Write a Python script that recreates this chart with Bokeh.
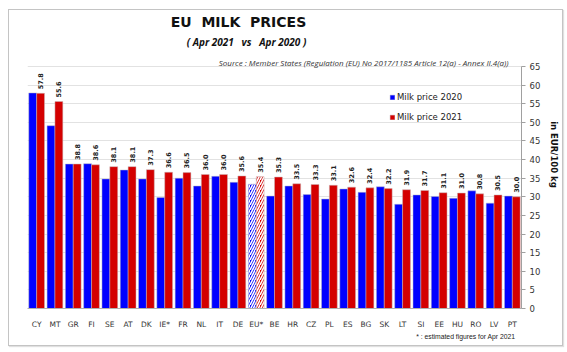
from math import pi
from bokeh.plotting import figure
from bokeh.models import (ColumnDataSource, Range1d, FixedTicker, Label, Title,
                          LabelSet, Legend, LegendItem, InlineStyleSheet)
from bokeh.core.properties import value
from bokeh.transform import dodge
from bokeh.embed import file_html
from bokeh.resources import INLINE

countries = ["CY", "MT", "GR", "FI", "SE", "AT", "DK", "IE*", "FR", "NL", "IT", "DE", "EU*",
             "BE", "HR", "CZ", "PL", "ES", "BG", "SK", "LT", "SI", "EE", "HU", "RO", "LV", "PT"]
price_2020 = [57.9, 49.1, 38.8, 38.9, 34.8, 37.2, 34.8, 29.8, 35.0, 32.9, 35.5, 33.9, 33.4,
              30.2, 32.9, 30.6, 29.4, 32.1, 31.2, 32.7, 28.0, 30.5, 30.1, 29.6, 31.6, 28.3, 30.2]
price_2021 = [57.8, 55.6, 38.8, 38.6, 38.1, 38.1, 37.3, 36.6, 36.5, 36.0, 36.0, 35.6, 35.4,
              35.3, 33.5, 33.3, 33.1, 32.6, 32.4, 32.2, 31.9, 31.7, 31.1, 31.0, 30.8, 30.5, 30.0]
estimated = ["EU*"]
y_ticks = list(range(0, 66, 5))

src = ColumnDataSource(dict(
    country=countries,
    p2020=price_2020,
    p2021=price_2021,
    lbl=["%.1f" % v for v in price_2021],
    hatch=["/" if c in estimated else " " for c in countries],
))

W, H = 567, 352
FL, FR, FB = 27, 521, 308          # frame left / right / bottom (canvas px)
DATA_TOP = 66                       # canvas y of the value 65
ppu = (FB - DATA_TOP) / y_ticks[-1]
y_end = y_ticks[-1] + DATA_TOP / ppu   # frame reaches canvas top, titles live inside it

p = figure(width=W, height=H, x_range=countries, y_range=Range1d(0, y_end),
           output_backend="svg", toolbar_location=None, y_axis_location="right",
           min_border_left=FL, min_border_right=W - FR, min_border_top=0,
           min_border_bottom=H - FB)
p.background_fill_color = "white"
p.border_fill_color = "white"
p.outline_line_color = None
p.stylesheets = [InlineStyleSheet(css="""
:host { position: relative; }
:host::after {
  content: ""; position: absolute; left: 8px; top: 9px; width: 553px; height: 335px;
  border: 1px solid #c4c4c4; box-shadow: 1px 1px 1px #e0e0e0;
  pointer-events: none; z-index: 100;
}
""")]

BLUE = "#0000ff"
RED = "#d40000"
bw = 0.43
r20 = p.vbar(x=dodge("country", -0.215, range=p.x_range), top="p2020", width=bw, source=src,
             fill_color=BLUE, line_color="#b8b8c8", line_width=0.5,
             hatch_pattern="hatch", hatch_color="white", hatch_scale=5, hatch_weight=1.6)
r21 = p.vbar(x=dodge("country", 0.215, range=p.x_range), top="p2021", width=bw, source=src,
             fill_color=RED, line_color="#c8b8b8", line_width=0.5,
             hatch_pattern="hatch", hatch_color="white", hatch_scale=5, hatch_weight=1.6)

labels = LabelSet(x=dodge("country", 0.215, range=p.x_range), y="p2021", text="lbl",
                  source=src, angle=pi / 2, text_align="left", text_baseline="middle",
                  y_offset=4, text_font=value("DejaVu Sans"), text_font_style="bold",
                  text_font_size="6.5px", text_color="#222222")
p.add_layout(labels)

# axes
p.yaxis.ticker = FixedTicker(ticks=y_ticks)
p.yaxis.bounds = (0, y_ticks[-1])
p.yaxis.axis_label = "in EUR/100 kg"
p.yaxis.axis_label_text_font = "DejaVu Sans"
p.yaxis.axis_label_text_font_style = "bold"
p.yaxis.axis_label_text_font_size = "8.5px"
p.yaxis.axis_label_text_color = "#111111"
p.yaxis.axis_label_standoff = 6
p.yaxis.major_label_text_font = "DejaVu Sans"
p.yaxis.major_label_text_font_size = "8.5px"
p.yaxis.major_label_text_color = "#333333"
p.yaxis.axis_line_color = "#a0a0a0"
p.yaxis.major_tick_line_color = "#a0a0a0"
p.yaxis.major_tick_out = 4
p.yaxis.major_tick_in = 0
p.yaxis.minor_tick_line_color = None
p.yaxis.major_label_standoff = 4

p.xaxis.major_label_text_font = "DejaVu Sans"
p.xaxis.major_label_text_font_size = "7.5px"
p.xaxis.major_label_text_color = "#333333"
p.xaxis.axis_line_color = "#b0b0b0"
p.xaxis.major_tick_line_color = None
p.xaxis.major_label_standoff = 5

p.xgrid.grid_line_color = None
p.ygrid.grid_line_color = "#e2e2e2"

legend = Legend(items=[LegendItem(label="Milk price 2020", renderers=[r20]),
                       LegendItem(label="Milk price 2021", renderers=[r21])],
                location=(362, 186), orientation="vertical",
                background_fill_alpha=0, border_line_color=None, padding=0, margin=0,
                spacing=10, glyph_width=6, glyph_height=6, label_height=10,
                label_standoff=2, label_text_font="DejaVu Sans",
                label_text_font_size="8.5px", label_text_color="#222222")
p.add_layout(legend)

NB = "\u00a0"

# texts inside the frame (screen units relative to frame bottom-left)
def lab(text, cx, cy, size, style, align, font="DejaVu Sans", color="#111111"):
    p.add_layout(Label(x=cx - FL, y=FB - cy, x_units="screen", y_units="screen", text=text,
                       text_font=font, text_font_size=size, text_font_style=style,
                       text_align=align, text_baseline="middle", text_color=color))

lab("EU" + NB * 2 + "MILK" + NB * 2 + "PRICES", 238, 21, "14px", "bold", "center")
lab("(" + NB + "Apr 2021" + NB * 3 + "vs" + NB * 3 + "Apr 2020" + NB + ")", 246, 41,
    "10px", "bold italic", "center", font="Open Sans")
lab("Source : Member States (Regulation (EU) No 2017/1185 Article 12(a) - Annex II.4(a))",
    508, 62, "8px", "italic", "right", font="Open Sans", color="#333333")

# footnote below the x axis
p.add_layout(Title(text="* : estimated figures for Apr 2021", align="right",
                   offset=FR - 515, text_font="Liberation Sans", text_font_size="6.8px",
                   text_font_style="normal", text_color="#222222", standoff=2,
                   vertical_align="top"), "below")

open("out.html", "w").write(file_html(p, INLINE))
